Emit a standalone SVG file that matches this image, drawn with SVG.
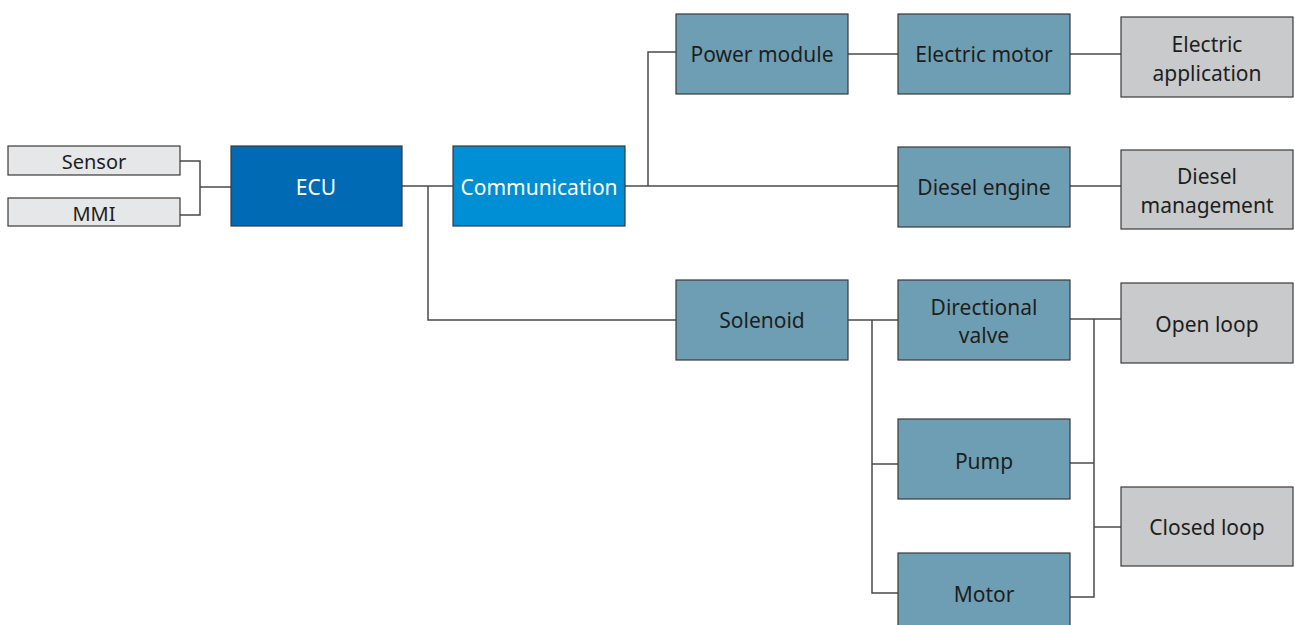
<svg xmlns="http://www.w3.org/2000/svg" width="1295" height="625" viewBox="0 0 1295 625">
<style>
.box{stroke:#3a3a3a;stroke-width:1.2}
.teal{fill:#6e9eb3}
.gray{fill:#c9cacc}
.light{fill:#e6e7e8}
.ecu{fill:#006ab5}
.com{fill:#008fd4}
text{font-family:"Noto Sans","Open Sans",sans-serif;font-size:21px;fill:#1e1e1e;text-anchor:middle;dominant-baseline:central}
.w{fill:#ffffff}
.sm{font-size:20px}
.conn{fill:none;stroke:#4a4a4a;stroke-width:1.5}
</style>
<g id="connectors" class="conn">
<polyline points="180,161 200,161 200,215 180,215"/>
<line x1="200" y1="187" x2="231" y2="187"/>
<line x1="402" y1="186" x2="453" y2="186"/>
<polyline points="428,186 428,320 676,320"/>
<line x1="625" y1="186" x2="898" y2="186"/>
<polyline points="648,186 648,52 676,52"/>
<line x1="848" y1="54" x2="898" y2="54"/>
<line x1="1070" y1="54" x2="1121" y2="54"/>
<line x1="1070" y1="186" x2="1121" y2="186"/>
<line x1="848" y1="320" x2="898" y2="320"/>
<polyline points="872,320 872,593 898,593"/>
<line x1="872" y1="464" x2="898" y2="464"/>
<line x1="1070" y1="319" x2="1121" y2="319"/>
<polyline points="1094,319 1094,597 1070,597"/>
<line x1="1070" y1="463" x2="1094" y2="463"/>
<line x1="1094" y1="527" x2="1121" y2="527"/>
</g>
<g id="sensor"><rect class="box light" x="8" y="146" width="172" height="29"/><text class="sm" x="94" y="161">Sensor</text></g>
<g id="mmi"><rect class="box light" x="8" y="198" width="172" height="28"/><text class="sm" x="94" y="213">MMI</text></g>
<g id="ecu"><rect class="box ecu" x="231" y="146" width="171" height="80"/><text class="w" x="316" y="187">ECU</text></g>
<g id="communication"><rect class="box com" x="453" y="146" width="172" height="80"/><text class="w" x="539" y="187">Communication</text></g>
<g id="power-module"><rect class="box teal" x="676" y="14" width="172" height="80"/><text x="762" y="54">Power module</text></g>
<g id="electric-motor"><rect class="box teal" x="898" y="14" width="172" height="80"/><text x="984" y="54">Electric motor</text></g>
<g id="electric-application"><rect class="box gray" x="1121" y="17" width="172" height="80"/><text x="1207" y="44">Electric</text><text x="1207" y="73">application</text></g>
<g id="diesel-engine"><rect class="box teal" x="898" y="147" width="172" height="80"/><text x="984" y="187">Diesel engine</text></g>
<g id="diesel-management"><rect class="box gray" x="1121" y="150" width="172" height="79"/><text x="1207" y="176">Diesel</text><text x="1207" y="205">management</text></g>
<g id="solenoid"><rect class="box teal" x="676" y="280" width="172" height="80"/><text x="762" y="320">Solenoid</text></g>
<g id="directional-valve"><rect class="box teal" x="898" y="280" width="172" height="80"/><text x="984" y="307">Directional</text><text x="984" y="335">valve</text></g>
<g id="open-loop"><rect class="box gray" x="1121" y="283" width="172" height="80"/><text x="1207" y="324">Open loop</text></g>
<g id="pump"><rect class="box teal" x="898" y="419" width="172" height="80"/><text x="984" y="461">Pump</text></g>
<g id="closed-loop"><rect class="box gray" x="1121" y="487" width="172" height="79"/><text x="1207" y="527">Closed loop</text></g>
<g id="motor"><rect class="box teal" x="898" y="553" width="172" height="80"/><text x="984" y="594">Motor</text></g>
</svg>
